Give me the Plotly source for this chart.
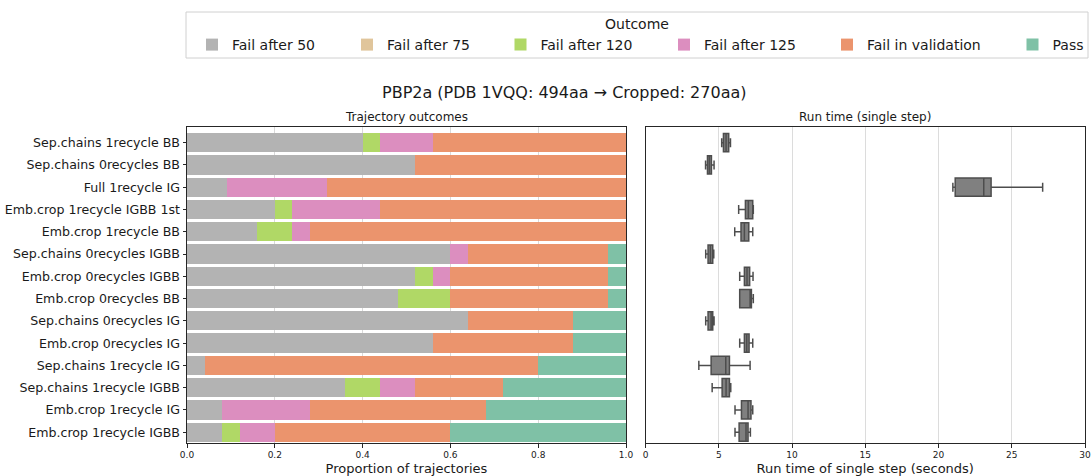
import plotly.graph_objects as go

# ---------------- data ----------------
configs = [
    "Sep.chains 1recycle BB",
    "Sep.chains 0recycles BB",
    "Full 1recycle IG",
    "Emb.crop 1recycle IGBB 1st",
    "Emb.crop 1recycle BB",
    "Sep.chains 0recycles IGBB",
    "Emb.crop 0recycles IGBB",
    "Emb.crop 0recycles BB",
    "Sep.chains 0recycles IG",
    "Emb.crop 0recycles IG",
    "Sep.chains 1recycle IG",
    "Sep.chains 1recycle IGBB",
    "Emb.crop 1recycle IG",
    "Emb.crop 1recycle IGBB",
]

outcomes = ["Fail after 50", "Fail after 75", "Fail after 120",
            "Fail after 125", "Fail in validation", "Pass"]

fail_50 = [0.40, 0.52, 0.091, 0.20, 0.16, 0.60, 0.52, 0.48, 0.64, 0.56, 0.04, 0.36, 0.08, 0.08]
fail_75 = [0.0] * 14
fail_120 = [0.04, 0.0, 0.0, 0.04, 0.08, 0.0, 0.04, 0.12, 0.0, 0.0, 0.0, 0.08, 0.0, 0.04]
fail_125 = [0.12, 0.0, 0.227, 0.20, 0.04, 0.04, 0.04, 0.0, 0.0, 0.0, 0.0, 0.08, 0.20, 0.08]
fail_val = [0.44, 0.48, 0.682, 0.56, 0.72, 0.32, 0.36, 0.36, 0.24, 0.32, 0.76, 0.20, 0.40, 0.40]
passed = [0.0, 0.0, 0.0, 0.0, 0.0, 0.04, 0.04, 0.04, 0.12, 0.12, 0.20, 0.28, 0.32, 0.40]

# run time (single step) box statistics, seconds
rt_low = [5.20, 4.10, 20.98, 6.36, 6.09, 4.11, 6.43, 6.43, 4.11, 6.43, 3.64, 4.55, 6.11, 6.11]
rt_q1 = [5.32, 4.23, 21.14, 6.82, 6.52, 4.27, 6.75, 6.43, 4.27, 6.75, 4.48, 5.23, 6.55, 6.39]
rt_med = [5.50, 4.36, 23.09, 7.02, 6.75, 4.43, 6.93, 7.14, 4.48, 6.91, 5.48, 5.50, 7.00, 6.86]
rt_q3 = [5.68, 4.50, 23.59, 7.32, 7.05, 4.59, 7.11, 7.23, 4.59, 7.07, 5.73, 5.73, 7.20, 7.00]
rt_high = [5.80, 4.68, 27.11, 7.36, 7.32, 4.66, 7.34, 7.36, 4.68, 7.32, 7.14, 5.82, 7.32, 7.16]

colors = ["#b3b3b3", "#e0c59b", "#b0d866", "#dc8ebf", "#eb946d", "#7fc1a6"]

FONT = "DejaVu Sans"

# ---------------- geometry ----------------
ML, MR, MT, MB = 187, 6, 127, 33
W, H = 1091, 476
pw = W - ML - MR
ph = H - MT - MB


def px_to_x(p):
    return (p - ML) / pw


def px_to_y(p):
    return (H - MB - p) / ph


left_dom = [0, px_to_x(626)]
right_dom = [px_to_x(645.5), 1]

# legend entry text start positions (pixels) as in the reference legend
legend_text_px = [231, 386, 539.5, 703, 866, 1051.5]
legend_ids = ["legend", "legend2", "legend3", "legend4", "legend5", "legend6"]

# ---------------- figure ----------------
fig = go.Figure()

series = [fail_50, fail_75, fail_120, fail_125, fail_val, passed]
for name, vals, col, lid in zip(outcomes, series, colors, legend_ids):
    fig.add_trace(go.Bar(
        y=configs, x=vals, name=name, orientation="h",
        marker=dict(color=col, line=dict(width=0)),
        xaxis="x", yaxis="y", legend=lid,
        hovertemplate="%{y}: %{x:.2f}<extra>" + name + "</extra>",
    ))

fig.add_trace(go.Box(
    y=configs, q1=rt_q1, median=rt_med, q3=rt_q3,
    lowerfence=rt_low, upperfence=rt_high,
    orientation="h", xaxis="x2", yaxis="y2",
    fillcolor="#808080", line=dict(color="#4d4d4d", width=1.5),
    width=0.82, whiskerwidth=0.5, showlegend=False,
))

axis_line = dict(showline=True, linecolor="#262626", linewidth=1, mirror=True)

legends = {}
for lid, tx in zip(legend_ids, legend_text_px):
    legends[lid] = dict(
        orientation="h", x=px_to_x(tx - 39), xanchor="left", y=px_to_y(45), yanchor="middle",
        font=dict(size=14, family=FONT), bgcolor="rgba(0,0,0,0)", borderwidth=0,
        itemclick=False, itemdoubleclick=False,
    )

fig.update_layout(
    width=W, height=H,
    margin=dict(l=ML, r=MR, t=MT, b=MB, pad=0, autoexpand=False),
    paper_bgcolor="white", plot_bgcolor="white",
    font=dict(family=FONT, color="#1a1a1a"),
    barmode="stack", bargap=0.135,
    xaxis=dict(domain=left_dom, range=[0, 1], tickvals=[0, 0.2, 0.4, 0.6, 0.8, 1.0],
               ticktext=["0.0", "0.2", "0.4", "0.6", "0.8", "1.0"],
               ticks="outside", ticklen=3.5, tickcolor="#262626",
               tickfont=dict(size=9, family=FONT),
               showgrid=True, gridcolor="#d9d9d9", gridwidth=1, zeroline=False,
               title=dict(text="Proportion of trajectories", font=dict(size=13, family=FONT), standoff=4),
               **axis_line),
    yaxis=dict(domain=[0, 1], type="category", categoryorder="array", categoryarray=configs,
               range=[13.485, -0.705], ticks="outside", ticklen=3.5, tickcolor="#262626",
               tickfont=dict(size=12.6, family=FONT), showgrid=False, zeroline=False,
               **axis_line),
    xaxis2=dict(domain=right_dom, anchor="y2", range=[0, 30], tickvals=[0, 5, 10, 15, 20, 25, 30],
                ticks="outside", ticklen=3.5, tickcolor="#262626",
                tickfont=dict(size=9, family=FONT),
                showgrid=True, gridcolor="#dcdcdc", gridwidth=1, zeroline=False,
                title=dict(text="Run time of single step (seconds)", font=dict(size=13, family=FONT), standoff=4),
                **axis_line),
    yaxis2=dict(domain=[0, 1], anchor="x2", type="category", categoryorder="array", categoryarray=configs,
                range=[13.485, -0.705], showticklabels=False, ticks="", showgrid=False, zeroline=False,
                **axis_line),
    showlegend=True,
    shapes=[dict(type="rect", xref="paper", yref="paper",
                 x0=px_to_x(186), x1=px_to_x(1088), y0=px_to_y(58), y1=px_to_y(12),
                 line=dict(color="#d0d0d0", width=1), fillcolor="rgba(0,0,0,0)", layer="below")],
    annotations=[
        dict(text="Outcome", xref="paper", yref="paper",
             x=px_to_x(637), y=px_to_y(24), xanchor="center", yanchor="middle", showarrow=False,
             font=dict(size=14, family=FONT)),
        dict(text="PBP2a (PDB 1VQQ: 494aa → Cropped: 270aa)", xref="paper", yref="paper",
             x=px_to_x(564), y=px_to_y(92), xanchor="center", yanchor="middle", showarrow=False,
             font=dict(size=16, family=FONT)),
        dict(text="Trajectory outcomes", xref="paper", yref="paper",
             x=(left_dom[0] + left_dom[1]) / 2, y=px_to_y(117), xanchor="center", yanchor="middle",
             showarrow=False, font=dict(size=12, family=FONT)),
        dict(text="Run time (single step)", xref="paper", yref="paper",
             x=(right_dom[0] + right_dom[1]) / 2, y=px_to_y(117), xanchor="center", yanchor="middle",
             showarrow=False, font=dict(size=12, family=FONT)),
    ],
    **legends,
)

fig.write_html("out.html")
